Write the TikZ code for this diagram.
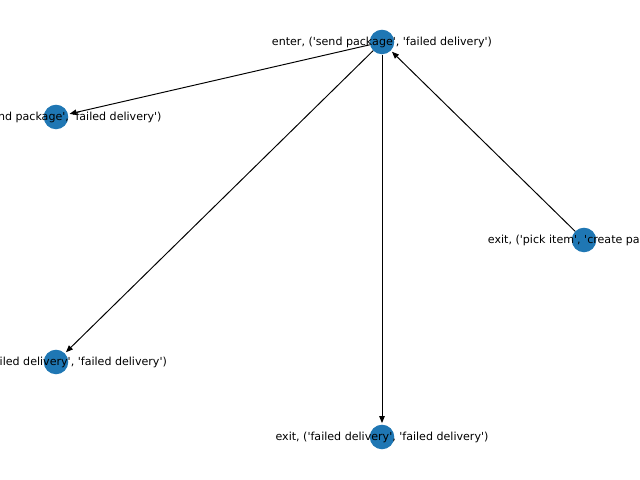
\documentclass[tikz,border=0pt]{standalone}
\usepackage{fontspec}
\setmainfont{DejaVu Sans}[Ligatures=TeXOff]
\usetikzlibrary{arrows.meta}
\begin{document}
\begin{tikzpicture}[x=0.01in,y=-0.01in,
  vert/.style={circle,fill={rgb,255:red,31;green,119;blue,180},draw=none,minimum size=0.245in,inner sep=0pt},
  lbl/.style={font=\fontsize{8pt}{9pt}\selectfont,inner sep=0pt,text=black},
  edge/.style={draw=black,line width=0.7pt,-{Triangle[length=0.07in,width=0.055in]},shorten >=1pt}]
\useasboundingbox (0,0) rectangle (640,480);
\clip (0,0) rectangle (640,480);
\node[vert] (A) at (382,42) {};
\node[vert] (B) at (56,117) {};
\node[vert] (C) at (56,362) {};
\node[vert] (D) at (382,437) {};
\node[vert] (E) at (584,240) {};
\draw[edge] (A) -- (B);
\draw[edge] (A) -- (C);
\draw[edge] (A) -- (D);
\draw[edge] (E) -- (A);
\node[lbl] (LA) at (A) {enter, ('send package', 'failed delivery')};
\node[lbl] (LB) at (B) {exit, ('send package', 'failed delivery')};
\node[lbl] (LC) at (C) {enter, ('failed delivery', 'failed delivery')};
\node[lbl] (LD) at (D) {exit, ('failed delivery', 'failed delivery')};
\node[lbl] (LE) at (E) {exit, ('pick item', 'create package')};
\end{tikzpicture}
\end{document}
